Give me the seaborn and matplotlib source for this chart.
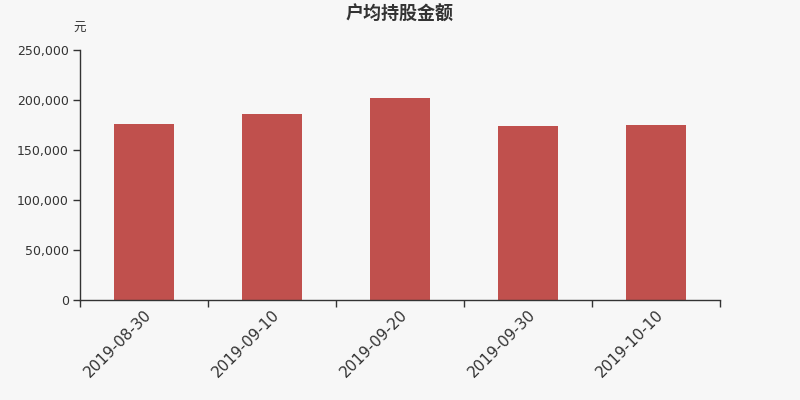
import numpy as np
import pandas as pd
import matplotlib
matplotlib.use("Agg")
import matplotlib.pyplot as plt
import seaborn as sns
from matplotlib.ticker import FuncFormatter

dates = ["2019-08-30", "2019-09-10", "2019-09-20", "2019-09-30", "2019-10-10"]
amounts = [176000, 186000, 201700, 174000, 175000]
title = "户均持股金额"
unit = "元"

sns.set_theme(style="white")
plt.rcParams["font.family"] = ["DejaVu Sans", "Noto Sans CJK SC"]

bg = "#f7f7f7"
bar_color = "#c0504d"
axis_color = "#333333"

df = pd.DataFrame({"date": dates, "amount": amounts})

fig = plt.figure(figsize=(8, 4), dpi=100, facecolor=bg)
ax = fig.add_axes([0.1, 0.25, 0.8, 0.625], facecolor=bg)

sns.barplot(data=df, x="date", y="amount", color=bar_color, saturation=1,
            width=60 / 128, linewidth=0, ax=ax)

ax.set_xlim(-0.5, len(dates) - 0.5)
ax.set_ylim(0, 250000)
ax.set_yticks(np.arange(0, 250001, 50000))
ax.yaxis.set_major_formatter(FuncFormatter(lambda v, p: f"{int(v):,}"))

# labels at category centres, tick marks at boundaries
ax.set_xticks(range(len(dates)))
ax.set_xticklabels(dates, rotation=45, ha="right", rotation_mode="anchor",
                   fontsize=11, color=axis_color)
ax.set_xticks(np.arange(-0.5, len(dates), 1.0), minor=True)
ax.tick_params(axis="x", which="major", length=0, pad=5)
ax.tick_params(axis="x", which="minor", length=5, width=1, color=axis_color,
               direction="out", bottom=True)
ax.tick_params(axis="y", length=5, width=1, color=axis_color, direction="out",
               left=True, labelsize=9, labelcolor=axis_color, pad=3)

for side in ["top", "right"]:
    ax.spines[side].set_visible(False)
for side in ["left", "bottom"]:
    ax.spines[side].set_color(axis_color)
    ax.spines[side].set_linewidth(1)

ax.set_xlabel("")
ax.set_ylabel("")
ax.grid(False)

fig.text(0.5, 0.965, title, ha="center", va="center", fontsize=13,
         fontweight="bold", color=axis_color,
         family=["Noto Sans CJK SC", "DejaVu Sans"])
fig.text(0.099, 0.928, unit, ha="center", va="center", fontsize=9,
         color=axis_color, family=["Noto Sans CJK SC", "DejaVu Sans"])

fig.savefig("out.png", dpi=100, facecolor=bg)
